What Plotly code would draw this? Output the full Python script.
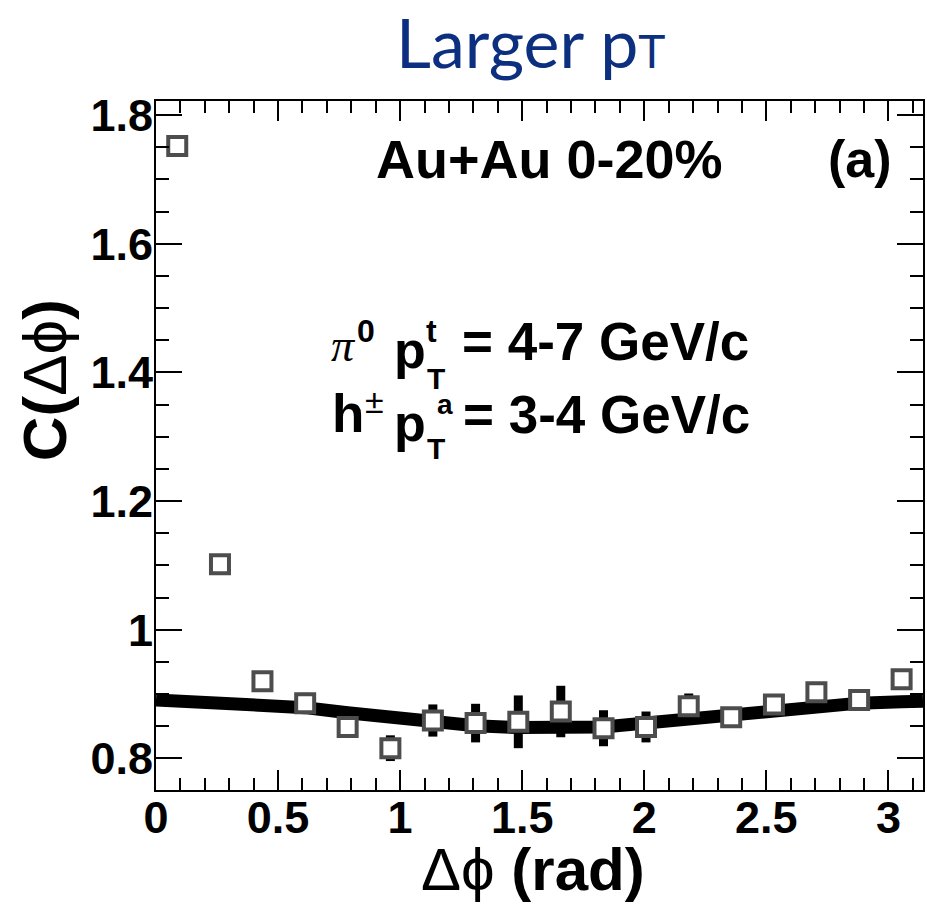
import plotly.graph_objects as go

# ---- data ----
dphi = [0.087, 0.262, 0.436, 0.611, 0.785, 0.960, 1.134, 1.309, 1.484,
        1.658, 1.833, 2.007, 2.182, 2.356, 2.531, 2.705, 2.880, 3.054]
corr = [1.752, 1.102, 0.920, 0.886, 0.849, 0.816, 0.859, 0.855, 0.857,
        0.873, 0.847, 0.849, 0.881, 0.864, 0.884, 0.903, 0.891, 0.923]
corr_err = [0.004, 0.006, 0.008, 0.016, 0.012, 0.020, 0.025, 0.030, 0.041,
            0.040, 0.028, 0.024, 0.020, 0.010, 0.012, 0.012, 0.010, 0.010]

bg_x = [0.0, 0.087, 0.262, 0.436, 0.611, 0.785, 0.960, 1.134, 1.309, 1.484,
        1.658, 1.833, 2.007, 2.182, 2.356, 2.531, 2.705, 2.880, 3.054, 3.1416]
bg_y = [0.891, 0.890, 0.888, 0.884, 0.879, 0.871, 0.863, 0.856, 0.851, 0.848,
        0.847, 0.849, 0.855, 0.862, 0.869, 0.876, 0.882, 0.886, 0.888, 0.889]

x_range = [0.0, 3.1416]
y_range = [0.751, 1.822]

# ---- figure geometry (pixels) ----
W, H = 927, 905
L, R, T, B = 156, 925, 101, 790


def P(xp, yp):
    return dict(x=(xp - L) / (R - L), y=(B - yp) / (B - T), xref="paper", yref="paper")


SANS = "Liberation Sans, Arial, Helvetica, sans-serif"
SERIF = "Liberation Serif, DejaVu Serif, serif"


def F(size, weight="bold", family=SANS, style="normal"):
    return dict(family=family, size=size, color="black", weight=weight, style=style)


fig = go.Figure()

fig.add_trace(go.Scatter(
    x=bg_x, y=bg_y, mode="lines",
    line=dict(color="black", width=13),
    hoverinfo="skip", showlegend=False,
))

fig.add_trace(go.Scatter(
    x=dphi, y=corr, mode="markers",
    error_y=dict(type="data", array=corr_err, color="black", thickness=9, width=0),
    marker=dict(symbol="square", size=18, color="white",
                line=dict(color="#4d4d4d", width=4)),
    showlegend=False,
))

axis_common = dict(
    showline=True, linecolor="black", linewidth=2, mirror="ticks",
    ticks="inside", tickcolor="black", tickwidth=2,
    showgrid=False, zeroline=False,
    tickfont=F(45),
)

fig.update_layout(
    width=W, height=H,
    margin=dict(l=L, r=W - R, t=T, b=H - B, pad=0),
    paper_bgcolor="white", plot_bgcolor="white",
    xaxis=dict(range=x_range, tickmode="linear", tick0=0, dtick=0.5, ticklen=20,
               minor=dict(dtick=0.1, tick0=0, ticklen=12, tickwidth=2,
                          tickcolor="black", ticks="inside"),
               ticklabelstandoff=-13,
               **axis_common),
    yaxis=dict(range=y_range, tickmode="linear", tick0=0, dtick=0.2, ticklen=26,
               minor=dict(dtick=0.05, tick0=0, ticklen=13, tickwidth=2,
                          tickcolor="black", ticks="inside"),
               ticklabelstandoff=-8,
               **axis_common),
)

ann = []


def add(text, xp, yp, size, xanchor="left", yanchor="middle", font=None, angle=0):
    a = dict(text=text, showarrow=False, xanchor=xanchor, yanchor=yanchor,
             font=font if font is not None else F(size), textangle=angle)
    a.update(P(xp, yp))
    ann.append(a)


# title
add("Larger p<span style='font-size:46px'>T</span>", 531, 41, 68, xanchor="center",
    font=dict(family="Lato, Open Sans, sans-serif", size=68, color="#0c2f80"))

add("Au+Au 0-20%", 551, 159, 54, xanchor="center")
add("(a)", 862, 159, 52, xanchor="center")

# line 1: pi0 pT^t = 4-7 GeV/c
add("π", 329, 345, 46, font=F(46, "normal", SERIF, "italic"))
add("0", 356, 331, 32)
add("p", 393, 350, 52)
add("t", 425, 331, 32)
add("T", 426, 378, 30)
add("= 4-7 GeV/c", 461, 341, 53)

# line 2: h± pT^a = 3-4 GeV/c
add("h", 330, 413, 53)
add("±", 364, 401, 34, font=F(34, "normal"))
add("p", 393, 423, 52)
add("a", 436, 404, 28)
add("T", 426, 448, 30)
add("= 3-4 GeV/c", 462, 414, 53)

# axis titles
add("<span style='font-weight:normal'>Δϕ</span> (rad)", 534, 869, 60, xanchor="center")
add("C(<span style='font-weight:normal'>Δϕ</span>)", 44, 380, 62, xanchor="center", angle=-90)

fig.update_layout(annotations=ann)

fig.write_html("out.html")
